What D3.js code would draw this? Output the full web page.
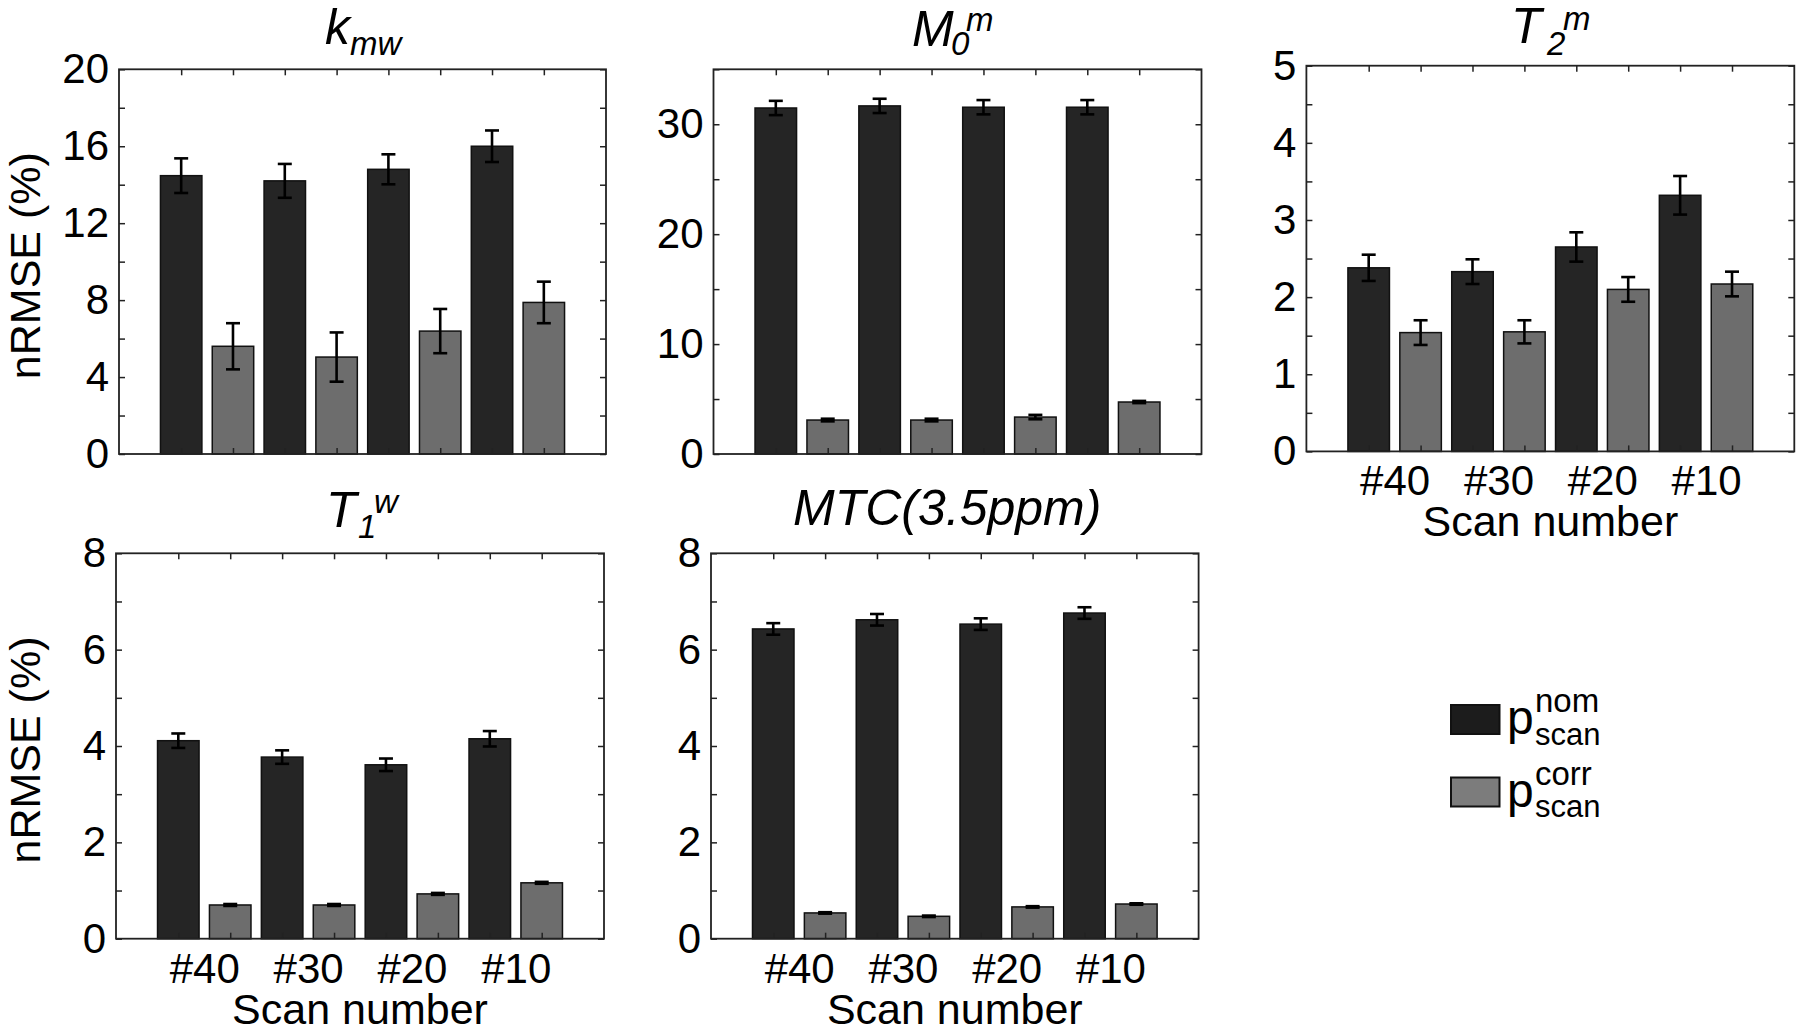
<!DOCTYPE html>
<html>
<head>
<meta charset="utf-8">
<script src="https://cdn.jsdelivr.net/npm/d3@7"></script>
<style>
  html, body { margin: 0; padding: 0; background: #fff; }
  svg { display: block; }
  text { font-family: "Liberation Sans", Arial, sans-serif; fill: #000; }
</style>
</head>
<body>
<svg id="chart" width="1800" height="1033"></svg>
<script>
// ---------------- DATA ----------------
const scanLabels = ["#40", "#30", "#20", "#10"];
const seriesKeys = ["nom", "corr"];

const kmwNom = [14.47, 14.2, 14.8, 16.0];
const kmwNomErr = [0.9, 0.88, 0.78, 0.82];
const kmwCorr = [5.6, 5.04, 6.39, 7.88];
const kmwCorrErr = [1.2, 1.28, 1.15, 1.08];

const m0mNom = [31.48, 31.67, 31.55, 31.55];
const m0mNomErr = [0.65, 0.65, 0.65, 0.65];
const m0mCorr = [3.09, 3.09, 3.36, 4.73];
const m0mCorrErr = [0.12, 0.12, 0.2, 0.1];

const t2mNom = [2.38, 2.33, 2.65, 3.32];
const t2mNomErr = [0.17, 0.16, 0.19, 0.25];
const t2mCorr = [1.54, 1.55, 2.10, 2.17];
const t2mCorrErr = [0.16, 0.15, 0.16, 0.16];

const t1wNom = [4.11, 3.77, 3.61, 4.15];
const t1wNomErr = [0.15, 0.14, 0.13, 0.16];
const t1wCorr = [0.70, 0.70, 0.93, 1.16];
const t1wCorrErr = [0.02, 0.02, 0.02, 0.02];

const mtcNom = [6.43, 6.62, 6.53, 6.76];
const mtcNomErr = [0.12, 0.12, 0.12, 0.12];
const mtcCorr = [0.535, 0.465, 0.66, 0.72];
const mtcCorrErr = [0.015, 0.015, 0.015, 0.015];

const kmwTicks = [0, 4, 8, 12, 16, 20];
const m0mTicks = [0, 10, 20, 30];
const t2mTicks = [0, 1, 2, 3, 4, 5];
const t1wTicks = [0, 2, 4, 6, 8];
const mtcTicks = [0, 2, 4, 6, 8];

const yLabelText = "nRMSE (%)";
const xLabelText = "Scan number";

// ---------------- STYLE / LAYOUT ----------------
const colors = { nom: "#252525", corr: "#6d6d6d" };
const FONT_TICK = 42, FONT_LABEL = 43, FONT_YLABEL = 43, FONT_TITLE = 50, FONT_SUB = 33;

const panels = [
  { nom: kmwNom, nomErr: kmwNomErr, corr: kmwCorr, corrErr: kmwCorrErr,
    ymax: 20, ticks: kmwTicks, minorStep: 2,
    box: [119, 606, 69.3, 454], xlabels: false, ylabel: true,
    title: [{t: "k", x: 325, y: 44, s: FONT_TITLE}, {t: "mw", x: 350, y: 55, s: FONT_SUB}] },
  { nom: m0mNom, nomErr: m0mNomErr, corr: m0mCorr, corrErr: m0mCorrErr,
    ymax: 35, ticks: m0mTicks, minorStep: 5,
    box: [713.5, 1201.5, 69.3, 454], xlabels: false, ylabel: false,
    title: [{t: "M", x: 912, y: 46, s: FONT_TITLE}, {t: "0", x: 951, y: 55, s: FONT_SUB}, {t: "m", x: 966, y: 31, s: FONT_SUB}] },
  { nom: t2mNom, nomErr: t2mNomErr, corr: t2mCorr, corrErr: t2mCorrErr,
    ymax: 5, ticks: t2mTicks, minorStep: 0.5,
    box: [1306.4, 1794.3, 65.7, 451.4], xlabels: true, ylabel: false,
    title: [{t: "T", x: 1511, y: 43, s: FONT_TITLE}, {t: "2", x: 1547, y: 55, s: FONT_SUB}, {t: "m", x: 1563, y: 30, s: FONT_SUB}] },
  { nom: t1wNom, nomErr: t1wNomErr, corr: t1wCorr, corrErr: t1wCorrErr,
    ymax: 8, ticks: t1wTicks, minorStep: 1,
    box: [116, 604, 553.3, 938.7], xlabels: true, ylabel: true,
    title: [{t: "T", x: 326, y: 527.3, s: FONT_TITLE}, {t: "1", x: 358, y: 538.3, s: FONT_SUB}, {t: "w", x: 374, y: 513.3, s: FONT_SUB}] },
  { nom: mtcNom, nomErr: mtcNomErr, corr: mtcCorr, corrErr: mtcCorrErr,
    ymax: 8, ticks: mtcTicks, minorStep: 1,
    box: [711, 1198.6, 553.3, 938.7], xlabels: true, ylabel: false,
    title: [{t: "MTC(3.5ppm)", x: 793, y: 525, s: FONT_TITLE}] }
];

const svg = d3.select("#chart");

panels.forEach(p => {
  const [bx0, bx1, by0, by1] = p.box;
  const g = svg.append("g");

  // 8 bar positions: group i, series s -> 2*i + s + 1
  const x = d3.scaleLinear().domain([-0.2, 9.2]).range([bx0, bx1]);
  const y = d3.scaleLinear().domain([0, p.ymax]).range([by1, by0]);
  const barW = x(0.8) - x(0);

  const bars = [];
  scanLabels.forEach((lab, i) => {
    bars.push({ pos: 2 * i + 1, v: p.nom[i], e: p.nomErr[i], k: "nom" });
    bars.push({ pos: 2 * i + 2, v: p.corr[i], e: p.corrErr[i], k: "corr" });
  });

  // bars
  g.selectAll("rect.bar").data(bars).join("rect")
    .attr("class", "bar")
    .attr("x", d => x(d.pos) - barW / 2)
    .attr("width", barW)
    .attr("y", d => y(d.v))
    .attr("height", d => y(0) - y(d.v))
    .attr("fill", d => colors[d.k])
    .attr("stroke", "#111")
    .attr("stroke-width", 1.5);

  // error bars
  const capW = 14;
  const eb = g.selectAll("g.err").data(bars).join("g").attr("class", "err")
    .attr("stroke", "#000").attr("stroke-width", 2.6).attr("fill", "none");
  eb.append("line").attr("x1", d => x(d.pos)).attr("x2", d => x(d.pos))
    .attr("y1", d => y(d.v - d.e)).attr("y2", d => y(d.v + d.e));
  eb.append("line").attr("x1", d => x(d.pos) - capW / 2).attr("x2", d => x(d.pos) + capW / 2)
    .attr("y1", d => y(d.v + d.e)).attr("y2", d => y(d.v + d.e));
  eb.append("line").attr("x1", d => x(d.pos) - capW / 2).attr("x2", d => x(d.pos) + capW / 2)
    .attr("y1", d => y(d.v - d.e)).attr("y2", d => y(d.v - d.e));

  // minor + major y ticks
  const allY = d3.range(0, p.ymax + 1e-9, p.minorStep);
  const barPos = bars.map(d => d.pos);
  const tickLen = 6;

  const left = g.append("g").attr("transform", `translate(${bx0},0)`)
    .call(d3.axisLeft(y).tickValues(allY).tickSize(-tickLen).tickPadding(10)
      .tickFormat(v => p.ticks.some(t => Math.abs(t - v) < 1e-9) ? d3.format("d")(v) : ""));
  const right = g.append("g").attr("transform", `translate(${bx1},0)`)
    .call(d3.axisRight(y).tickValues(allY).tickSize(-tickLen).tickFormat(""));
  const top = g.append("g").attr("transform", `translate(0,${by0})`)
    .call(d3.axisTop(x).tickValues(barPos).tickSize(-tickLen).tickFormat(""));
  const bottom = g.append("g").attr("transform", `translate(0,${by1})`)
    .call(d3.axisBottom(x).tickValues(barPos).tickSize(-tickLen).tickFormat(""));

  [left, right, top, bottom].forEach(a => {
    a.select(".domain").remove();
    a.selectAll("line").attr("stroke", "#222").attr("stroke-width", 1.5);
    a.selectAll("text").style("font-size", FONT_TICK + "px").attr("fill", "#000");
  });

  // x group labels
  if (p.xlabels) {
    const gx = g.append("g").attr("transform", `translate(0,${by1})`)
      .call(d3.axisBottom(x).tickValues([1.5, 3.5, 5.5, 7.5]).tickSize(0).tickPadding(0)
        .tickFormat((v, i) => scanLabels[i]));
    gx.select(".domain").remove();
    gx.selectAll("text").style("font-size", FONT_TICK + "px").attr("fill", "#000")
      .attr("y", 44).attr("dy", null);
    g.append("text").attr("x", (bx0 + bx1) / 2).attr("y", by1 + 85)
      .attr("text-anchor", "middle").style("font-size", FONT_LABEL + "px").text(xLabelText);
  }

  // y label
  if (p.ylabel) {
    g.append("text")
      .attr("transform", `translate(40,${(by0 + by1) / 2 + 4}) rotate(-90)`)
      .attr("text-anchor", "middle").style("font-size", FONT_YLABEL + "px").text(yLabelText);
  }

  // box
  g.append("rect").attr("x", bx0).attr("y", by0).attr("width", bx1 - bx0).attr("height", by1 - by0)
    .attr("fill", "none").attr("stroke", "#222").attr("stroke-width", 1.8);

  // title
  p.title.forEach(t => {
    g.append("text").attr("x", t.x).attr("y", t.y)
      .style("font-size", t.s + "px").style("font-style", "italic").text(t.t);
  });
});

// ---------------- LEGEND ----------------
const legendItems = [
  { k: "nom", sup: "nom", sub: "scan", fill: "#1c1c1c" },
  { k: "corr", sup: "corr", sub: "scan", fill: "#7c7c7c" }
];
const lg = svg.append("g");
legendItems.forEach((it, i) => {
  const yb = 705 + i * 72.5;
  lg.append("rect").attr("x", 1451).attr("y", yb).attr("width", 48.5).attr("height", 29)
    .attr("fill", it.fill).attr("stroke", "#111").attr("stroke-width", 2);
  lg.append("text").attr("x", 1507).attr("y", yb + 29).style("font-size", "48px").text("p");
  lg.append("text").attr("x", 1535).attr("y", yb + 7).style("font-size", "33px").text(it.sup);
  lg.append("text").attr("x", 1535).attr("y", yb + 39.5).style("font-size", "31px").text(it.sub);
});
</script>
</body>
</html>
